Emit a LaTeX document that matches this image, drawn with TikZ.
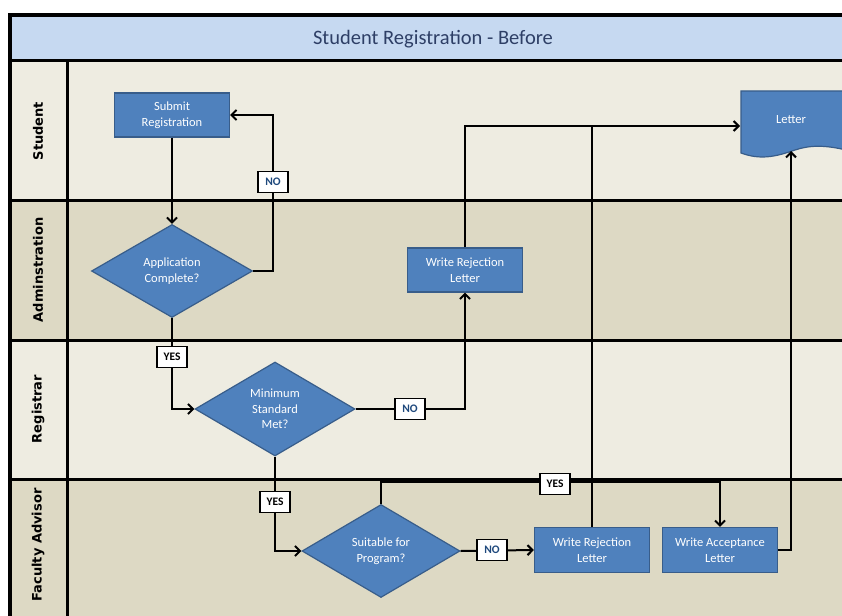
\documentclass[tikz,border=0pt]{standalone}
\usepackage{fontspec}
\setmainfont{Carlito}
\newfontfamily\lanefont{DejaVu Sans}
\usetikzlibrary{shapes.geometric,arrows.meta}
\definecolor{titleblue}{HTML}{C6D9F1}
\definecolor{lanelight}{HTML}{EEECE1}
\definecolor{lanedark}{HTML}{DDD9C4}
\definecolor{boxblue}{HTML}{4F81BD}
\definecolor{boxline}{HTML}{385D8A}
\definecolor{titletext}{HTML}{2E3F66}
\definecolor{notext}{HTML}{1F497D}
\begin{document}
\begin{tikzpicture}[x=1pt,y=-1pt,line width=2pt,
	arr/.style={-{Straight Barb[length=5pt,width=10pt]}},
	task/.style={draw=boxline,line width=1.2pt,fill=boxblue,text=white,minimum width=115pt,minimum height=44pt,align=center,font=\fontsize{12.5}{16}\selectfont},
	choice/.style={diamond,draw=boxline,line width=1.2pt,fill=boxblue,text=white,aspect=1.7,inner sep=1pt,align=center,font=\fontsize{12.5}{15.5}\selectfont},
	lbl/.style={draw=black,line width=1.2pt,fill=white,font=\bfseries\fontsize{11.5}{13}\selectfont,inner sep=2pt,minimum width=30pt,minimum height=21pt},
	lane/.style={rotate=90,font=\lanefont\bfseries\fontsize{13}{15}\selectfont}]
	\useasboundingbox (0,0) rectangle (842,615);
	% lanes
	\fill[titleblue] (10,15) rectangle (850,61);
	\fill[lanelight] (10,61) rectangle (850,200);
	\fill[lanedark] (10,200) rectangle (850,340);
	\fill[lanelight] (10,340) rectangle (850,479);
	\fill[lanedark] (10,479) rectangle (850,620);
	\draw[line width=3pt] (10,61)--(850,61) (10,200)--(850,200) (10,340)--(850,340) (10,479)--(850,479);
	\draw[line width=3pt] (67,61)--(67,620);
	\draw[line width=3.5pt] (10,620)--(10,15)--(850,15);
	\node[text=titletext,font=\fontsize{20.5}{22}\selectfont] (title) at (433,39) {Student Registration - Before};
	\node[lane] (lst) at (38,131) {Student};
	\node[lane] (lad) at (38,270) {Adminstration};
	\node[lane] (lre) at (38,409) {Registrar};
	\node[lane] (lfa) at (38,545) {Faculty Advisor};
	% shapes
	\node[task] (sub) at (172,115) {Submit\\Registration};
	\node[choice,minimum width=161pt,minimum height=93pt] (app) at (172,271) {Application\\Complete?};
	\node[task] (rejA) at (465,270) {Write Rejection\\Letter};
	\node[choice,minimum width=160pt,minimum height=94pt] (min) at (275,409) {Minimum\\Standard\\Met?};
	\node[choice,minimum width=158pt,minimum height=93pt] (suit) at (381,551) {Suitable for\\Program?};
	\node[task,minimum height=45pt] (rejB) at (592,550) {Write Rejection\\Letter};
	\node[task,minimum height=45pt] (acc) at (720,550) {Write Acceptance\\Letter};
	\filldraw[fill=boxblue,draw=boxline,line width=1.2pt] (741,91)--(846,91)--(846,150) .. controls (825,145) and (810,145) .. (795,150) .. controls (775,157) and (760,160) .. (741,153)--cycle;
	\node[minimum width=100pt,minimum height=60pt,text=white,font=\fontsize{12.5}{15}\selectfont] (letter) at (791,120) {Letter};
	\coordinate (lt) at ([yshift=-6pt]letter.west);
	% connectors
	\draw[arr] (sub)--(app);
	\draw[arr] (app.east)--++(20,0) |- (sub.east);
	\draw[arr] (app.south) |- (min.west);
	\draw[arr] (min.east) -| (rejA.south);
	\draw[arr] (rejA.north) |- (lt);
	\draw (rejB.north)--(rejB.north |- lt);
	\draw[arr] (min.south) |- (suit.west);
	\draw[arr] (suit.east)--(rejB.west);
	\draw[arr] (suit.north)--++(0,-22) -| (acc.north);
	\draw[arr] (acc.east) -| (letter.south);
	% labels
	\node[lbl,text=notext] (no1) at (273,182) {NO};
	\node[lbl] (yes1) at (172,357) {YES};
	\node[lbl,text=notext] (no2) at (410,409) {NO};
	\node[lbl] (yes2) at (275,502) {YES};
	\node[lbl,text=notext] (no3) at (492,550) {NO};
	\node[lbl] (yes3) at (555,484) {YES};
\end{tikzpicture}
\end{document}
